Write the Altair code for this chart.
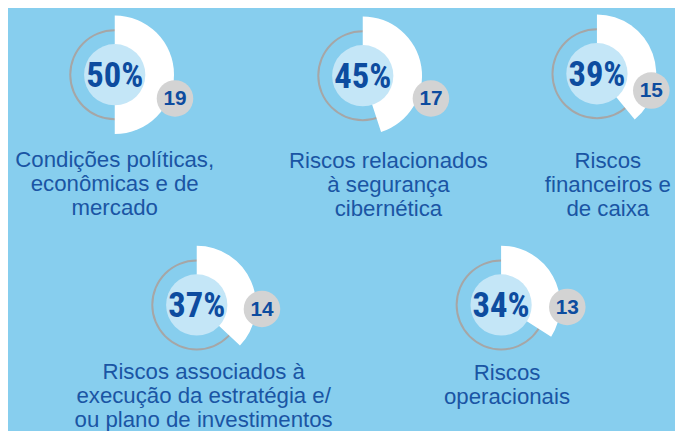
import math
import altair as alt
import pandas as pd

# ---- data ----
categories = [
    "Condições políticas,\neconômicas e de\nmercado",
    "Riscos relacionados\nà segurança\ncibernética",
    "Riscos\nfinanceiros e\nde caixa",
    "Riscos associados à\nexecução da estratégia e/\nou plano de investimentos",
    "Riscos\noperacionais",
]
percent = [50, 45, 39, 37, 34]
counts = [19, 17, 15, 14, 13]

# ---- layout (page pixel positions of each item) ----
item_x = [116, 367, 604, 199, 507]
item_y = [73, 74, 72, 306, 306]
bubble_x = [177, 436, 659, 265, 574]
bubble_y = [97, 97, 89, 310, 308]
label_x = [116, 393, 615, 206, 513]
label_y = [166, 167, 167, 381, 382]

# ---- styles ----
BG = "#87CEEE"
LIGHT = "#C4E6F7"
RING = "#A6A6A6"
BUBBLE = "#D3D3D3"
DARK = "#0D4C9F"
LABEL = "#1A55A4"
NARROW = "'Roboto Condensed', 'Open Sans Condensed', Roboto, sans-serif"
SANS = "'Liberation Sans', Arial, sans-serif"

W, H = 675, 423
TWO_PI = 2 * math.pi

df = pd.DataFrame({
    "label": categories,
    "pct": percent,
    "pct_label": [f"{p}%" for p in percent],
    "count": counts,
    "cx": item_x,
    "cy": item_y,
    "bx": bubble_x,
    "by": bubble_y,
    "lx": label_x,
    "ly": label_y,
})

xs = alt.Scale(domain=[8, 8 + W], nice=False, zero=False)
ys = alt.Scale(domain=[8, 8 + H], nice=False, zero=False, reverse=True)


def X(f):
    return alt.X(f"{f}:Q", scale=xs, axis=None)


def Y(f):
    return alt.Y(f"{f}:Q", scale=ys, axis=None)


base = alt.Chart(df)

ring = base.mark_arc(radius=46, radius2=44, theta=0, theta2=TWO_PI, color=RING).encode(
    x=X("cx"), y=Y("cy"))

wedge = base.mark_arc(radius=60, radius2=0, color="white").encode(
    x=X("cx"), y=Y("cy"),
    theta=alt.Theta("pct:Q", scale=alt.Scale(domain=[0, 100], range=[0, TWO_PI]), stack=False),
    theta2=alt.Theta2(datum=0),
)

disc = base.mark_arc(radius=31, theta=0, theta2=TWO_PI, color=LIGHT).encode(
    x=X("cx"), y=Y("cy"))

pct_text = base.mark_text(font=NARROW, fontSize=35, fontWeight="bold", color=DARK,
                          align="center", baseline="middle", dy=1).encode(
    x=X("cx"), y=Y("cy"), text="pct_label:N")

bubble = base.mark_arc(radius=18.5, theta=0, theta2=TWO_PI, color=BUBBLE).encode(
    x=X("bx"), y=Y("by"))

count_text = base.mark_text(font=SANS, fontSize=21, fontWeight="bold", color=DARK,
                            align="center", baseline="middle", dy=1).encode(
    x=X("bx"), y=Y("by"), text="count:Q")

labels = base.mark_text(font=SANS, fontSize=22.5, color=LABEL, align="center",
                        baseline="alphabetic", lineBreak="\n", lineHeight=24.5).encode(
    x=X("lx"), y=Y("ly"), text="label:N")

chart = alt.layer(ring, wedge, disc, pct_text, bubble, count_text, labels).properties(
    width=W, height=H, background=BG, padding=0,
    autosize=alt.AutoSizeParams(type="none"),
).configure_view(stroke=None)

chart.save("out.html", embed_options={"renderer": "svg", "actions": False})
